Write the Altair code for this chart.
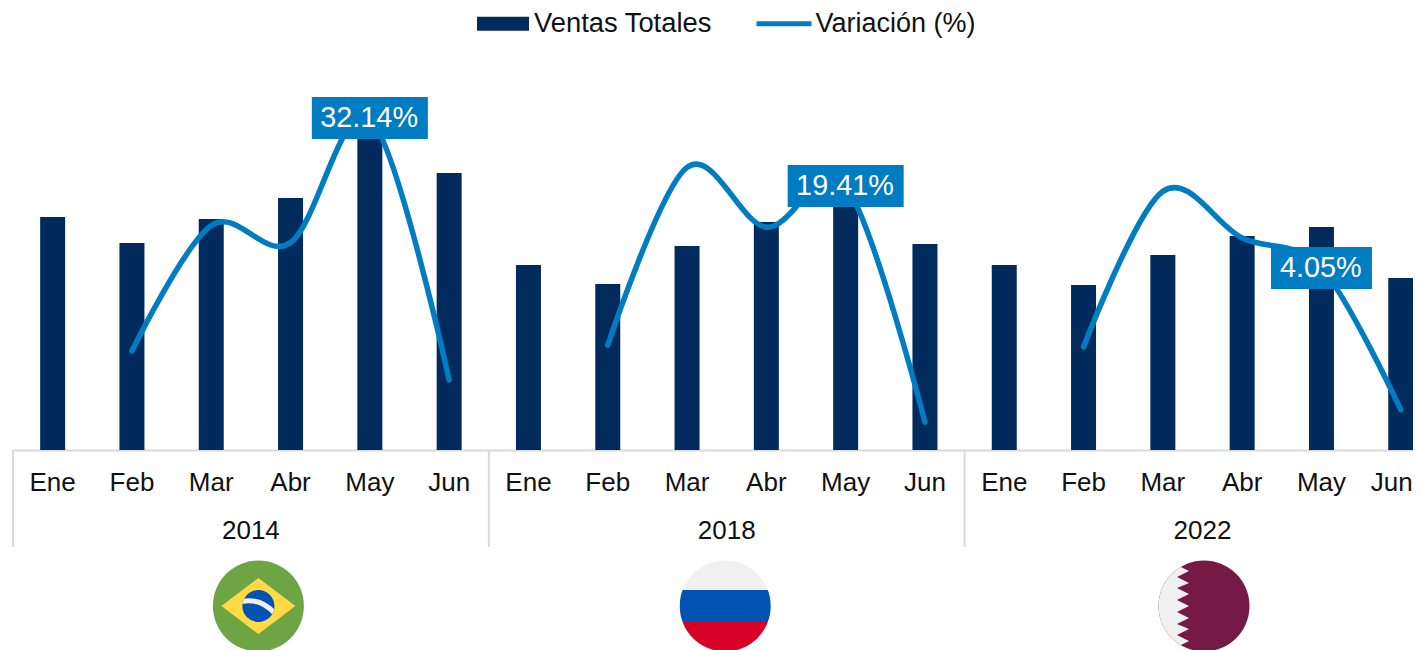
import urllib.parse
import altair as alt
import pandas as pd

years = ["2014", "2018", "2022"]
months = ["Ene", "Feb", "Mar", "Abr", "May", "Jun"]
ventas = [233, 207, 231, 252, 315, 277,
          185, 166, 204, 228, 245, 206,
          185, 165, 195, 214, 223, 172]
variacion = [None, -11.49, 12.0, 8.8, 32.14, -16.9,
             None, -10.4, 22.9, 11.7, 19.41, -24.8,
             None, -10.74, 18.4, 9.67, 4.05, -22.5]
labels = {"2014-May": "32.14%", "2018-May": "19.41%", "2022-May": "4.05%"}

NAVY = "#002B5C"
BLUE = "#007CC3"
GREY = "#D9D9D9"
INK = "#111111"
FONT = "Liberation Sans"
STEP = 79.3

keys = [f"{y}-{m}" for y in years for m in months]
df = pd.DataFrame({
    "key": keys,
    "year": [y for y in years for _ in months],
    "month": [m for _ in years for m in months],
    "ventas": ventas,
    "variacion": variacion,
})
df["label"] = df["key"].map(labels)
df["s1"] = "Ventas Totales"
df["s2"] = "Variación (%)"

def flag(body):
    svg = ('<svg xmlns="http://www.w3.org/2000/svg" width="92" height="92" viewBox="-46 -46 92 92">'
           '<defs><clipPath id="c"><circle r="45.5"/></clipPath></defs>'
           f'<g clip-path="url(#c)">{body}</g></svg>')
    return "data:image/svg+xml," + urllib.parse.quote(svg)

brazil = flag('<rect x="-46" y="-46" width="92" height="92" fill="#6DA544"/>'
              '<path d="M-37,0L0,-28L37,0L0,28Z" fill="#FFDA44"/>'
              '<circle r="16" fill="#0052B4"/>'
              '<clipPath id="b"><circle r="16"/></clipPath>'
              '<path clip-path="url(#b)" d="M-17,-4.5Q2,-8.5 16,7" stroke="#F0F0F0" stroke-width="5" fill="none"/>')
russia = flag('<rect x="-46" y="-46" width="92" height="30" fill="#F0F0F0"/>'
              '<rect x="-46" y="-16" width="92" height="32" fill="#0052B4"/>'
              '<rect x="-46" y="16" width="92" height="30" fill="#D80027"/>')
qatar = flag('<rect x="-46" y="-46" width="92" height="92" fill="#751A46"/>'
             '<path d="M-46,-46L-27,-41L-15,-35L-27,-29L-15,-23L-27,-18L-15,-12L-27,-6L-15,0L-27,6L-15,12'
             'L-27,18L-15,23L-27,29L-15,35L-27,41L-46,46Z" fill="#F0F0F0"/>')

x_scale = alt.Scale(domain=keys, range=[5, 5 + STEP * 18], paddingInner=0, paddingOuter=0, round=False)
x_axis = alt.Axis(
    labelExpr="datum.value === '2022-Jun' ? '' : split(datum.value,'-')[1]", labelAngle=0,
    labelFontSize=26, labelFont=FONT,
    labelColor=INK, labelPadding=32, labelOverlap=False, labelBound=False, labelFlush=False,
    ticks=False, domainColor=GREY, domainWidth=2, grid=False, labelBaseline="middle")
x_enc = alt.X("key:N", scale=x_scale, sort=None, title=None, axis=x_axis)
y_line = alt.Y("variacion:Q", scale=alt.Scale(domain=[-30.03, 52.74], nice=False, zero=False), axis=None)

bars = alt.Chart(df).mark_bar(size=25).encode(
    x=x_enc,
    y=alt.Y("ventas:Q", scale=alt.Scale(domain=[0, 442], nice=False), axis=None),
    fill=alt.Fill("s1:N", scale=alt.Scale(range=[NAVY]), legend=alt.Legend(
        title=None, orient="none", legendX=469, legendY=-10.2, symbolType="M-1,-0.27H1V0.27H-1Z",
        symbolSize=2704, symbolStrokeWidth=0, labelFontSize=27.35, labelFont=FONT, labelColor=INK,
        labelOffset=5, labelLimit=400)),
)

line = alt.Chart(df).transform_filter("datum.variacion != null").mark_line(
    strokeWidth=5.5, interpolate="cardinal", strokeCap="round", strokeJoin="round").encode(
    x=x_enc, y=y_line, detail="year:N",
    stroke=alt.Stroke("s2:N", scale=alt.Scale(range=[BLUE]), legend=alt.Legend(
        title=None, orient="none", legendX=746, legendY=-14.2, symbolType="stroke",
        symbolSize=3025, symbolStrokeWidth=5, labelFontSize=27, labelFont=FONT, labelColor=INK,
        labelOffset=1.5, labelLimit=400)),
)

def box(key, w):
    return alt.Chart(df).transform_filter(alt.datum.key == key).mark_rect(
        color=BLUE, width=w, height=42).encode(x=x_enc, y=y_line)

box1, box2, box3 = box("2014-May", 116), box("2018-May", 116), box("2022-May", 101)

value_text = alt.Chart(df).transform_filter("isValid(datum.label)").mark_text(
    fontSize=28.8, font=FONT, color="white", baseline="middle", xOffset=-0.7).encode(
    x=x_enc, y=y_line, text="label:N")

separators = alt.Chart(df).transform_filter("datum.month == 'Ene'").mark_rule(
    color=GREY, strokeWidth=2, xOffset=-STEP / 2).encode(x=x_enc, y=alt.value(442), y2=alt.value(539))

year_text = alt.Chart(df).transform_filter("datum.month == 'Mar'").mark_text(
    fontSize=26, font=FONT, color=INK, xOffset=STEP / 2, baseline="middle").encode(
    x=x_enc, y=alt.value(523), text="year:N")

last_month = alt.Chart(df).transform_filter("datum.key == '2022-Jun'").mark_text(
    fontSize=26, font=FONT, color=INK, xOffset=-9, baseline="middle").encode(
    x=x_enc, y=alt.value(475), text="month:N")

flag_layers = []
for yr, url, dx in [("2014", brazil, 7.5), ("2018", russia, -1.5), ("2022", qatar, 1.5)]:
    d = pd.DataFrame({"key": [f"{yr}-Mar"], "url": [url]})
    flag_layers.append(alt.Chart(d).mark_image(width=92, height=92, xOffset=STEP / 2 + dx).encode(
        x=x_enc, y=alt.value(598), url="url:N"))

chart = alt.layer(
    bars, line, box1, box2, box3, value_text, separators, year_text, last_month, *flag_layers
).resolve_scale(y="independent", fill="independent", stroke="independent").properties(
    width=1405, height=442, autosize="none",
    padding={"left": 0, "top": 0, "right": 0, "bottom": 200},
).configure_view(stroke=None)

chart.save("out.html", embed_options={"renderer": "svg", "actions": False})
